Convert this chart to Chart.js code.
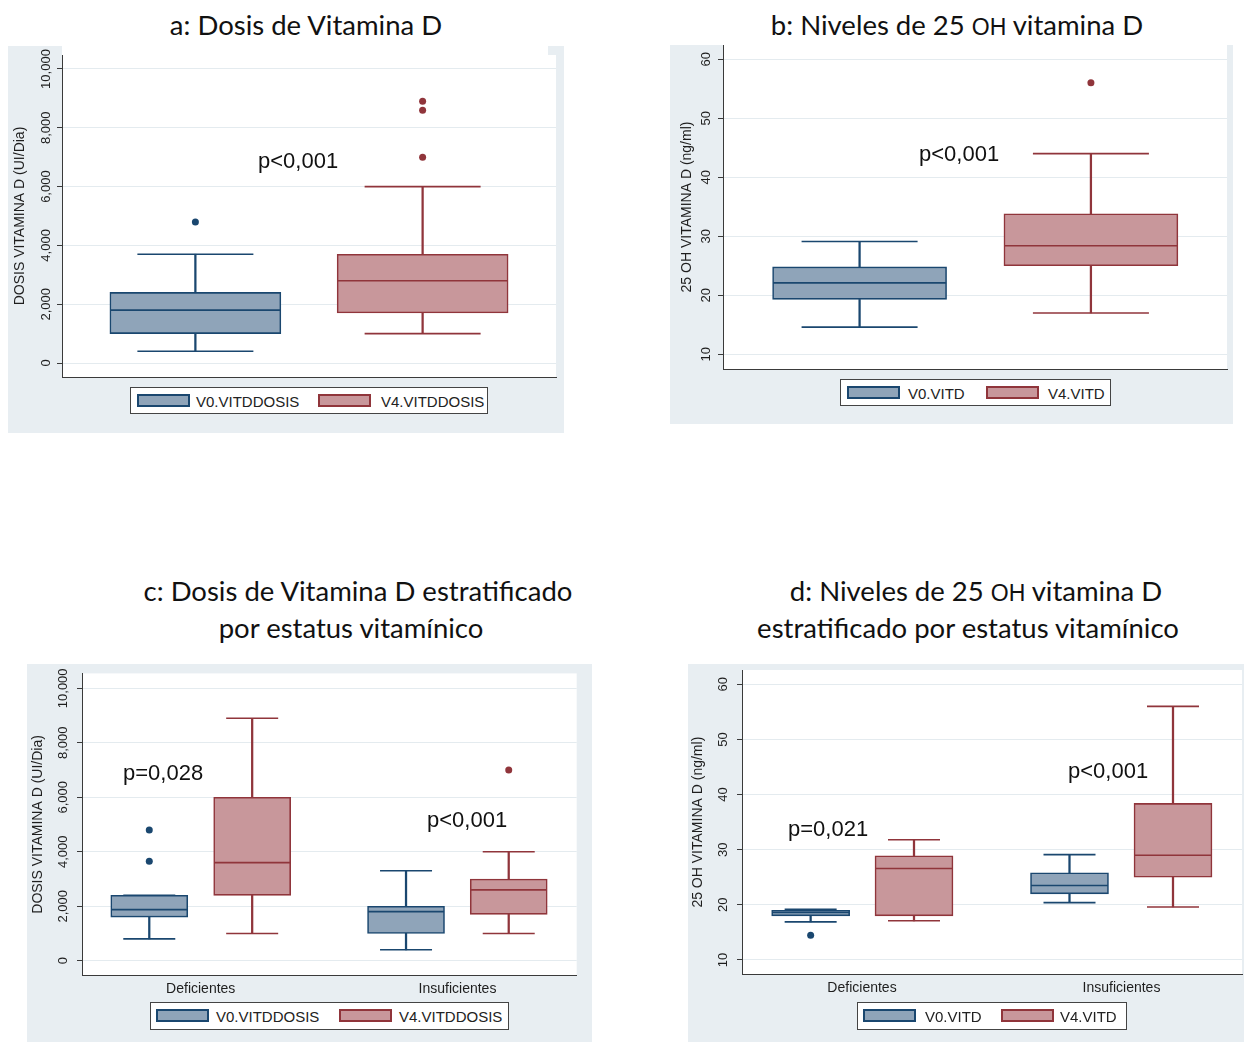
<!DOCTYPE html>
<html><head><meta charset="utf-8">
<script src="https://cdn.jsdelivr.net/npm/chart.js@4.4.0/dist/chart.umd.min.js"></script>
<style>
body{margin:0;width:1244px;height:1042px;position:relative;background:#fff;overflow:hidden;font-family:"Liberation Sans",Arial,sans-serif;}
.bg{position:absolute;background:#e8eef2;}
.white{position:absolute;background:#fff;}
.title{position:absolute;font-family:Lato,"Open Sans",sans-serif;font-size:27.5px;color:#111;text-align:center;line-height:37px;white-space:nowrap;transform:translateX(-50%);}
.oh{font-family:"Liberation Sans",Arial,sans-serif;font-size:23px;}
.p{position:absolute;font-size:22px;color:#111;white-space:nowrap;line-height:22px;}
.legend{position:absolute;border:1px solid #444;background:#fff;box-sizing:border-box;font-size:15px;color:#222;}
.legend span{position:absolute;top:50%;transform:translateY(-50%);white-space:nowrap;}
.sw{position:absolute;height:13px;width:53px;box-sizing:border-box;border:2px solid;top:6px;}
canvas{position:absolute;}
</style></head><body>

<div class="title" style="left:306px;top:6px;">a: Dosis de Vitamina D</div>
<div class="title" style="left:957px;top:6px;">b: Niveles de 25 <span class="oh">OH</span> vitamina D</div>
<div class="title" style="left:358px;top:572px;">c: Dosis de Vitamina D estratificado</div>
<div class="title" style="left:351px;top:609px;">por estatus vitamínico</div>
<div class="title" style="left:976px;top:572px;">d: Niveles de 25 <span class="oh">OH</span> vitamina D</div>
<div class="title" style="left:968px;top:609px;">estratificado por estatus vitamínico</div>

<div class="bg" style="left:8px;top:46px;width:556px;height:387px;"></div>
<div class="white" style="left:62px;top:46px;width:486px;height:9px;"></div>
<div class="bg" style="left:670px;top:45px;width:563px;height:379px;"></div>
<div class="bg" style="left:27px;top:664px;width:565px;height:378px;"></div>
<div class="bg" style="left:688px;top:664px;width:556px;height:378px;"></div>

<canvas id="ca" width="556" height="387" style="left:8px;top:46px;"></canvas>
<canvas id="cb" width="563" height="379" style="left:670px;top:45px;"></canvas>
<canvas id="cc" width="565" height="378" style="left:27px;top:664px;"></canvas>
<canvas id="cd" width="556" height="378" style="left:688px;top:664px;"></canvas>

<div id="legends"></div>
<div id="pvals"></div>

<script>
// ---------- data (box stats: [lower whisker, q1, median, q3, upper whisker]) ----------
const doseSeries = ['V0.VITDDOSIS', 'V4.VITDDOSIS'];
const levelSeries = ['V0.VITD', 'V4.VITD'];
const groups = ['Deficientes', 'Insuficientes'];

// a: dose, all patients
const doseV0 = [400, 1000, 1800, 2400, 3700];
const doseV4 = [1000, 1700, 2800, 3700, 6000];
const doseV0Out = [4800];
const doseV4Out = [7000, 8600, 8900];

// b: 25 OH vitamin D levels, all patients
const levelV0 = [14.6, 19.3, 22.1, 24.8, 29.1];
const levelV4 = [17.0, 25.0, 28.4, 33.8, 44.0];
const levelV0Out = [];
const levelV4Out = [56.0];

// c: dose by status (Deficientes, Insuficientes)
const doseDefV0 = [800, 1600, 1875, 2400, 2400];
const doseDefV4 = [1000, 2400, 3600, 6000, 8900];
const doseInsV0 = [400, 1000, 1800, 2000, 3300];
const doseInsV4 = [1000, 1700, 2600, 3000, 4000];
const doseDefV0Out = [3650, 4800];
const doseDefV4Out = [];
const doseInsV0Out = [];
const doseInsV4Out = [7000];

// d: levels by status
const levelDefV0 = [16.9, 18.0, 18.6, 19.0, 19.2];
const levelDefV4 = [17.1, 18.0, 26.6, 28.9, 31.8];
const levelInsV0 = [20.4, 22.0, 23.5, 25.8, 29.1];
const levelInsV4 = [19.6, 25.0, 29.0, 38.4, 56.0];
const levelDefV0Out = [14.5];
const levelDefV4Out = [];
const levelInsV0Out = [];
const levelInsV4Out = [];

const doseTicks = [0, 2000, 4000, 6000, 8000, 10000];
const doseTickLabels = ['0', '2,000', '4,000', '6,000', '8,000', '10,000'];
const levelTicks = [10, 20, 30, 40, 50, 60];
const levelTickLabels = ['10', '20', '30', '40', '50', '60'];

const pValuesA = ['p<0,001'];
const pValuesB = ['p<0,001'];
const pValuesC = ['p=0,028', 'p<0,001'];
const pValuesD = ['p=0,021', 'p<0,001'];

// ---------- styles ----------
const NAVY = '#1a476f', NAVY_FILL = '#8fa4b9';
const MAROON = '#90353b', MAROON_FILL = '#c8979b';
const GRID = '#e4ebef', AXIS = '#3a3a3a', TXT = '#1e1e1e';
const LW = 1.6;

const whiteArea = {
  id: 'whiteArea',
  beforeDraw(chart) {
    const {ctx, chartArea: a} = chart;
    ctx.save(); ctx.fillStyle = '#fff';
    ctx.fillRect(a.left, a.top, a.right - a.left, a.bottom - a.top);
    ctx.restore();
  }
};

function measure(labels, font) {
  const c = document.createElement('canvas').getContext('2d');
  c.font = font;
  return Math.max(...labels.map(l => c.measureText(l).width));
}

function seriesDatasets(stats, outs, pos, line, fill, boxW, capW) {
  const ds = [];
  ds.push({type: 'bar', order: 5, grouped: false, barThickness: LW,
    data: stats.flatMap((s, i) => [{x: pos[i], y: [s[0], s[1]]}, {x: pos[i], y: [s[3], s[4]]}]),
    backgroundColor: line, borderWidth: 0});
  ds.push({type: 'bar', order: 4, grouped: false, barThickness: boxW,
    data: stats.map((s, i) => ({x: pos[i], y: [s[1], s[3]]})),
    backgroundColor: fill, borderColor: line, borderWidth: LW, borderSkipped: false});
  ds.push({type: 'scatter', order: 2, clip: false,
    data: stats.map((s, i) => ({x: pos[i], y: s[2]})),
    pointStyle: 'line', pointRadius: boxW / 2 - 0.5, pointHoverRadius: boxW / 2 - 0.5,
    borderColor: line, pointBorderWidth: LW, pointHoverBorderWidth: LW});
  ds.push({type: 'scatter', order: 2, clip: false,
    data: stats.flatMap((s, i) => [{x: pos[i], y: s[0]}, {x: pos[i], y: s[4]}]),
    pointStyle: 'line', pointRadius: capW / 2, pointHoverRadius: capW / 2,
    borderColor: line, pointBorderWidth: LW, pointHoverBorderWidth: LW});
  ds.push({type: 'scatter', order: 1, clip: false,
    data: outs.flatMap((o, i) => o.map(v => ({x: pos[i], y: v}))),
    pointStyle: 'circle', pointRadius: 3.5, pointHoverRadius: 3.5,
    backgroundColor: line, borderWidth: 0, pointBorderWidth: 0});
  return ds;
}

function makePanel(id, p) {
  const tickFont = {family: 'Liberation Sans', size: 13};
  const widest = measure(p.tickLabels, '13px "Liberation Sans"');
  const tickPad = p.tickOffset - 5 - widest / 2;
  const datasets = [
    ...seriesDatasets(p.v0.stats, p.v0.outs, p.v0.pos, NAVY, NAVY_FILL, p.boxW, p.capW),
    ...seriesDatasets(p.v4.stats, p.v4.outs, p.v4.pos, MAROON, MAROON_FILL, p.boxW, p.capW)
  ];
  return new Chart(document.getElementById(id), {
    type: 'bar',
    data: {datasets},
    plugins: [whiteArea],
    options: {
      responsive: false, animation: false, devicePixelRatio: 1,
      layout: {autoPadding: false, padding: {left: 0, top: p.padTop, right: p.padRight, bottom: 0}},
      plugins: {legend: {display: false}, tooltip: {enabled: false}},
      events: [],
      scales: {
        x: {
          type: 'linear', min: 0, max: 1, offset: false,
          afterBuildTicks: s => { s.ticks = (p.groupPos || []).map(v => ({value: v})); },
          afterFit: s => { s.height = p.xH; s.paddingLeft = 0; s.paddingRight = 0; },
          ticks: {display: !!p.groupPos, autoSkip: false, maxRotation: 0, padding: 5,
            color: TXT, font: {family: 'Liberation Sans', size: 14},
            callback: v => groups[(p.groupPos || []).indexOf(v)]},
          grid: {display: false, drawTicks: false},
          border: {display: true, color: AXIS, width: 1}
        },
        y: {
          type: 'linear', min: p.yMin, max: p.yMax, stacked: false,
          afterBuildTicks: s => { s.ticks = p.ticks.map(v => ({value: v})); },
          afterFit: s => { s.width = p.yW; s.paddingTop = 0; s.paddingBottom = 0; },
          ticks: {minRotation: 90, maxRotation: 90, crossAlign: 'center', padding: tickPad,
            color: TXT, font: tickFont,
            callback: v => p.tickLabels[p.ticks.indexOf(v)]},
          grid: {color: GRID, lineWidth: 1, drawTicks: true, tickLength: 5, tickColor: AXIS, tickWidth: 1},
          border: {display: true, color: AXIS, width: 1},
          title: {display: true, text: p.yTitle, color: TXT,
            font: {family: 'Liberation Sans', size: 14}, padding: {top: p.titlePad, bottom: 0}}
        }
      }
    }
  });
}

makePanel('ca', {
  v0: {stats: [doseV0], outs: [doseV0Out], pos: [0.27]},
  v4: {stats: [doseV4], outs: [doseV4Out], pos: [0.73]},
  boxW: 171, capW: 116, yMin: -476, yMax: 10476, ticks: doseTicks, tickLabels: doseTickLabels,
  yTitle: 'DOSIS VITAMINA D (UI/Dia)', yW: 54, padTop: 9, padRight: 8, xH: 56, tickOffset: 15.5, titlePad: 3.6
});
makePanel('cb', {
  v0: {stats: [levelV0], outs: [levelV0Out], pos: [0.271]},
  v4: {stats: [levelV4], outs: [levelV4Out], pos: [0.73]},
  boxW: 174, capW: 116, yMin: 7.5, yMax: 62.42, ticks: levelTicks, tickLabels: levelTickLabels,
  yTitle: '25 OH VITAMINA D (ng/ml)', yW: 53, padTop: 0, padRight: 6, xH: 55, tickOffset: 17, titlePad: 8.3
});
makePanel('cc', {
  v0: {stats: [doseDefV0, doseInsV0], outs: [doseDefV0Out, doseInsV0Out], pos: [0.136, 0.655]},
  v4: {stats: [doseDefV4, doseInsV4], outs: [doseDefV4Out, doseInsV4Out], pos: [0.344, 0.8626]},
  groupPos: [0.24, 0.759],
  boxW: 77, capW: 52, yMin: -540, yMax: 10547, ticks: doseTicks, tickLabels: doseTickLabels,
  yTitle: 'DOSIS VITAMINA D (UI/Dia)', yW: 55, padTop: 9.4, padRight: 15.3, xH: 66.6, tickOffset: 18.4, titlePad: 2.6
});
makePanel('cd', {
  v0: {stats: [levelDefV0, levelInsV0], outs: [levelDefV0Out, levelInsV0Out], pos: [0.1373, 0.655]},
  v4: {stats: [levelDefV4, levelInsV4], outs: [levelDefV4Out, levelInsV4Out], pos: [0.344, 0.862]},
  groupPos: [0.24, 0.759],
  boxW: 78, capW: 52, yMin: 7.4, yMax: 62.59, ticks: levelTicks, tickLabels: levelTickLabels,
  yTitle: '25 OH VITAMINA D (ng/ml)', yW: 54, padTop: 6, padRight: 2, xH: 67.7, tickOffset: 18.4, titlePad: 1.6
});

// ---------- legends ----------
function legend(names, box, sw1, t1, sw2, t2) {
  const d = document.createElement('div');
  d.className = 'legend';
  Object.assign(d.style, {left: box[0] + 'px', top: box[1] + 'px', width: box[2] + 'px', height: box[3] + 'px'});
  d.innerHTML =
    `<div class="sw" style="left:${sw1}px;border-color:${NAVY};background:${NAVY_FILL}"></div>` +
    `<span style="left:${t1}px">${names[0]}</span>` +
    `<div class="sw" style="left:${sw2}px;border-color:${MAROON};background:${MAROON_FILL}"></div>` +
    `<span style="left:${t2}px">${names[1]}</span>`;
  document.getElementById('legends').appendChild(d);
}
legend(doseSeries, [130, 387, 358, 27], 6, 65, 187, 250);
legend(levelSeries, [840, 379, 271, 27], 6, 67, 145, 207);
legend(doseSeries, [150, 1002, 359, 28], 5, 65, 188, 248);
legend(levelSeries, [857, 1002, 270, 28], 5, 67, 143, 202);

// ---------- p-value labels ----------
function pl(text, x, y) {
  const d = document.createElement('div');
  d.className = 'p'; d.textContent = text;
  d.style.left = x + 'px'; d.style.top = (y - 11) + 'px';
  document.getElementById('pvals').appendChild(d);
}
pl(pValuesA[0], 258, 161);
pl(pValuesB[0], 919, 154);
pl(pValuesC[0], 123, 773);
pl(pValuesC[1], 427, 820);
pl(pValuesD[0], 788, 829);
pl(pValuesD[1], 1068, 771);
</script>
</body></html>
